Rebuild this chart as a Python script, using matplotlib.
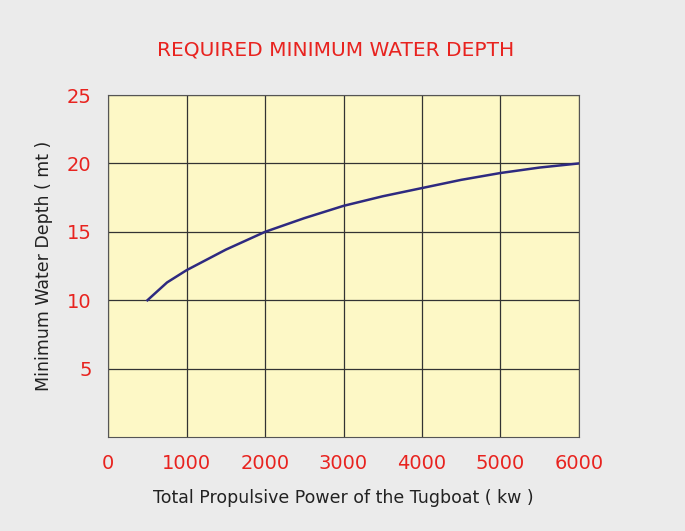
import matplotlib
matplotlib.use("Agg")
import matplotlib.pyplot as plt

power = [500, 750, 1000, 1500, 2000, 2500, 3000, 3500, 4000, 4500, 5000, 5500, 6000]
depth = [10, 11.3, 12.2, 13.7, 15.0, 16.0, 16.9, 17.6, 18.2, 18.8, 19.3, 19.7, 20.0]
xticks = [0, 1000, 2000, 3000, 4000, 5000, 6000]
yticks = [5, 10, 15, 20, 25]

red = "#e8231f"
fam = ["DejaVu Sans"]
fig = plt.figure(figsize=(6.85, 5.31), dpi=100, facecolor="#ebebeb")
ax = fig.add_axes([0.158, 0.177, 0.687, 0.644])
ax.set_facecolor("#fdf8c6")
ax.plot(power, depth, color="#2e2a80", lw=1.8)
ax.set_xlim(0, 6000)
ax.set_ylim(0, 25)
ax.set_xticks(xticks)
ax.set_yticks(yticks)
ax.grid(True, color="#333333", lw=0.9)
for s in ax.spines.values():
    s.set_color("#555555")
ax.tick_params(length=0, pad=12)
for lab in ax.get_xticklabels() + ax.get_yticklabels():
    lab.set_color(red)
    lab.set_family(fam)
    lab.set_fontsize(14)
ax.set_xlabel("Total Propulsive Power of the Tugboat ( kw )", fontsize=12.5, color="#222222", labelpad=12, family=fam)
ax.set_ylabel("Minimum Water Depth ( mt )", fontsize=12.5, color="#222222", labelpad=10, family=fam)
fig.text(0.49, 0.905, "REQUIRED MINIMUM WATER DEPTH", ha="center", va="center", color=red, fontsize=14.5, family=fam)
fig.savefig("out.png", dpi=100, facecolor=fig.get_facecolor())
